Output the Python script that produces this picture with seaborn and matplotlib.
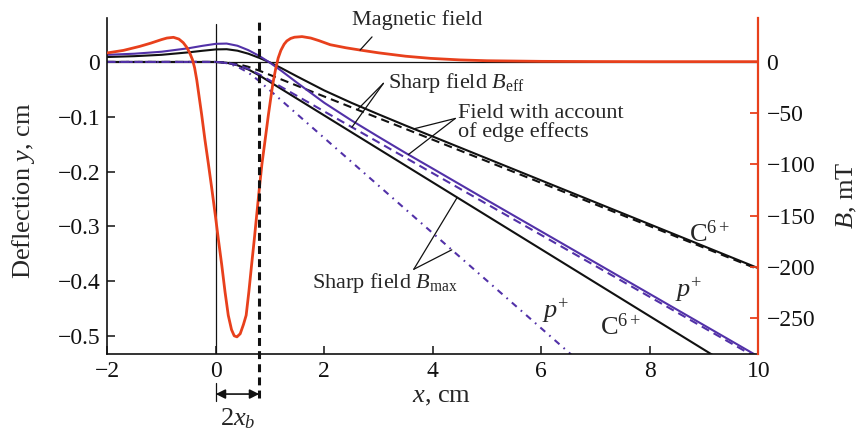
import numpy as np
import pandas as pd
import matplotlib
matplotlib.use("Agg")
import matplotlib.pyplot as plt
import matplotlib.transforms as mtransforms
import seaborn as sns

# ---------------- data ----------------
# magnetic field B (mT) along x (cm)
field_x = [-2.0, -1.7, -1.4, -1.2, -1.0, -0.9, -0.78, -0.68, -0.6, -0.535, -0.48, -0.43,
           -0.39, -0.35, -0.31, -0.26, -0.2, -0.135, -0.07, -0.01, 0.05, 0.11, 0.17, 0.23,
           0.29, 0.34, 0.39, 0.45, 0.51, 0.56, 0.61, 0.66, 0.71, 0.755, 0.80, 0.85, 0.91,
           0.97, 1.05, 1.10, 1.15, 1.2, 1.26, 1.31, 1.38, 1.45, 1.59, 1.75, 1.9, 2.11, 2.4,
           2.66, 3.0, 3.5, 3.96, 4.5, 5.0, 6.0, 7.0, 8.0, 10.0]
field_B = [8.5, 11.0, 14.9, 18.0, 21.5, 23.0, 23.7, 22.0, 18.5, 14.0, 8.5, 2.0,
           -6.0, -18.0, -33.0, -51.7, -76.0, -100.0, -125.0, -149.0, -174.0, -198.0, -224.0, -247.0,
           -261.0, -267.0, -268.0, -265.0, -256.0, -247.0, -224.0, -198.0, -173.0, -149.0, -125.0, -100.0, -76.0,
           -51.7, -22.0, -8.0, 3.5, 11.0, 17.0, 20.2, 22.6, 23.8, 24.4, 23.0, 20.5, 16.5, 13.5,
           11.3, 8.6, 5.3, 3.2, 1.7, 0.9, 0.3, 0.1, 0.0, 0.0]

# deflection y (cm): field with account of edge effects
edge_x = [-2, -1.5, -1, -0.5, -0.25, 0, 0.2, 0.4, 0.6, 0.8, 1.0, 1.2, 1.5, 2.0, 2.5,
          3.0, 3.5, 4, 5, 6, 8, 10]
c6_edge_y = [0.009, 0.0105, 0.013, 0.0175, 0.0203, 0.0228, 0.0232, 0.0205, 0.015, 0.0075,
             -0.001, -0.0108, -0.0265, -0.052, -0.0745, -0.0955, -0.116, -0.136, -0.176,
             -0.216, -0.296, -0.376]
p_edge_y = [0.013, 0.015, 0.0186, 0.025, 0.0293, 0.0330, 0.0335, 0.0295, 0.0215, 0.0110,
            -0.0015, -0.0155, -0.038, -0.0745, -0.1065, -0.1365, -0.166, -0.1945, -0.252,
            -0.309, -0.423, -0.537]

# sharp field B_eff
c6_eff_x = [-2, 0, 0.2, 0.4, 0.6, 0.8, 1.0, 10]
c6_eff_y = [0, 0, -0.0010, -0.0039, -0.0089, -0.0158, -0.0237, -0.378]
p_eff_x = [-2, 0, 0.2, 0.4, 0.6, 0.8, 1.0, 10]
p_eff_y = [0, 0, -0.0014, -0.0056, -0.0127, -0.0226, -0.0339, -0.541]

# sharp field B_max
c6_max_x = [-2, 0, 0.2, 0.4, 0.6, 0.8, 1.0, 9.4]
c6_max_y = [0, 0, -0.0015, -0.0061, -0.0137, -0.0244, -0.0366, -0.549]
p_max_x = [-2, 0, 0.2, 0.4, 0.6, 0.8, 1.0, 6.8]
p_max_y = [0, 0, -0.0022, -0.0087, -0.0195, -0.0347, -0.0520, -0.555]

# axes ticks / labels
x_ticks = [-2, 0, 2, 4, 6, 8, 10]
x_ticklabels = ["\u22122", "0", "2", "4", "6", "8", "10"]
y_ticks = [-0.5, -0.4, -0.3, -0.2, -0.1, 0]
y_ticklabels = ["\u22120.5", "\u22120.4", "\u22120.3", "\u22120.2", "\u22120.1", "0"]
b_ticks = [-250, -200, -150, -100, -50, 0]
b_ticklabels = ["\u2212250", "\u2212200", "\u2212150", "\u2212100", "\u221250", "0"]
two_xb = 0.8  # width of sharp-field region, 2x_b

# ---------------- style ----------------
sns.set_theme(style="ticks")
plt.rcParams["font.family"] = ["Liberation Serif", "DejaVu Serif"]
plt.rcParams["mathtext.fontset"] = "custom"
plt.rcParams["mathtext.rm"] = "Liberation Serif"
plt.rcParams["mathtext.it"] = "Liberation Serif:italic"
plt.rcParams["mathtext.bf"] = "Liberation Serif:bold"

RED = "#e8401c"
PURPLE = "#5231a8"
BLACK = "#111111"

fig = plt.figure(figsize=(8.61, 4.29), dpi=100)
ax = fig.add_axes([0.1246, 0.1741, 0.7561, 0.7851])
ax2 = ax.twinx()

lw = 1.5
dash = (0, (4, 2.5))
dashdot = (0, (3.1, 2.6, 0.8, 2.6))

def draw(axis, xs, ys, **kw):
    df = pd.DataFrame({"x": xs, "y": ys})
    sns.lineplot(data=df, x="x", y="y", ax=axis, estimator=None, sort=False, **kw)

# reference lines
ax.axhline(0, color=BLACK, lw=0.9, zorder=1)
ax.plot([0, 0], [0, 0.98], color=BLACK, lw=0.9,
        transform=mtransforms.blended_transform_factory(ax.transData, ax.transAxes), zorder=1)

# deflection curves
draw(ax, c6_max_x, c6_max_y, color=BLACK, lw=lw)
draw(ax, p_max_x, p_max_y, color=PURPLE, lw=lw, linestyle=dashdot)
draw(ax, c6_eff_x, c6_eff_y, color=BLACK, lw=lw, linestyle=dash)
draw(ax, p_eff_x, p_eff_y, color=PURPLE, lw=lw, linestyle=dash)
draw(ax, edge_x, c6_edge_y, color=BLACK, lw=lw)
draw(ax, edge_x, p_edge_y, color=PURPLE, lw=lw)

# magnetic field on right axis
draw(ax2, field_x, field_B, color=RED, lw=2.0)

# limits
ax.set_xlim(-2, 10)
ax.set_ylim(-0.533, 0.081)
ax2.set_ylim(-285, 43)

# ticks
ax.set_xticks(x_ticks)
ax.set_xticklabels(x_ticklabels)
ax.set_yticks(y_ticks)
ax.set_yticklabels(y_ticklabels)
ax2.set_yticks(b_ticks)
ax2.set_yticklabels(b_ticklabels)
ax.tick_params(axis="both", direction="in", length=6, width=1.1, labelsize=17, colors=BLACK)
ax.tick_params(axis="y", pad=5)
ax.tick_params(axis="x", pad=5)
ax2.tick_params(axis="y", direction="in", length=6, width=1.3, labelsize=17, pad=6,
                color=RED, labelcolor=BLACK)

# spines
for s in ["left", "bottom"]:
    ax.spines[s].set_color(BLACK)
    ax.spines[s].set_linewidth(1.2)
ax.spines["top"].set_visible(False)
ax.spines["right"].set_visible(False)
ax2.spines["top"].set_visible(False)
ax2.spines["left"].set_visible(False)
ax2.spines["bottom"].set_visible(False)
ax2.spines["right"].set_color(RED)
ax2.spines["right"].set_linewidth(1.6)

# axis labels
ax.set_xlabel("$x$, cm", fontsize=19)
ax.xaxis.set_label_coords(0.514, -0.095)
ax.set_ylabel("Deflection $y$, cm", fontsize=19)
ax.yaxis.set_label_coords(-0.108, 0.485)
ax2.set_ylabel("$B$, mT", fontsize=19)
ax2.yaxis.set_label_coords(1.118, 0.473)

# 2x_b marker (drawn on the top axes so it lies over the field curve)
bt = mtransforms.blended_transform_factory(ax2.transData, ax2.transAxes)
ax2.plot([two_xb, two_xb], [-0.13, 0.99], color=BLACK, lw=2.2, linestyle=(0, (2.6, 1.7)),
         transform=bt, clip_on=False, zorder=5)
ax2.plot([0, 0], [-0.14, -0.085], color=BLACK, lw=0.9, transform=bt, clip_on=False)
ax2.annotate("", xy=(0, -0.118), xytext=(two_xb, -0.118), xycoords=bt, textcoords=bt,
             arrowprops=dict(arrowstyle="<|-|>", color=BLACK, lw=1.2, mutation_scale=14,
                             shrinkA=0, shrinkB=0), annotation_clip=False)
ax2.text(two_xb / 2, -0.21, "2$x_b$", transform=bt, fontsize=19, ha="center",
         va="baseline", clip_on=False)

# annotations
fs = 16
def yat(xs, ys, x):
    return float(np.interp(x, xs, ys))

ax2.text(2.51, 40.5, "Magnetic field", fontsize=fs, ha="left", va="center")
ax2.annotate("", xy=(2.66, yat(field_x, field_B, 2.66)), xytext=(2.88, 24.1),
             arrowprops=dict(arrowstyle="-", color=BLACK, lw=0.9, shrinkA=0, shrinkB=0))

ax.text(3.18, -0.038, "Sharp field $B_{\\rm eff}$", fontsize=fs, ha="left", va="center")
for xe, xs_, ys_ in [(2.61, c6_eff_x, c6_eff_y), (2.51, p_eff_x, p_eff_y)]:
    ax.annotate("", xy=(xe, yat(xs_, ys_, xe)), xytext=(3.09, -0.039),
                arrowprops=dict(arrowstyle="-", color=BLACK, lw=0.9, shrinkA=0, shrinkB=0))

ax.text(4.47, -0.111, "Field with account\nof edge effects", fontsize=fs, ha="left",
        va="center", linespacing=0.95)
for xe, ys_ in [(3.65, c6_edge_y), (3.55, p_edge_y)]:
    ax.annotate("", xy=(xe, yat(edge_x, ys_, xe)), xytext=(4.415, -0.103),
                arrowprops=dict(arrowstyle="-", color=BLACK, lw=0.9, shrinkA=0, shrinkB=0))

ax.text(1.78, -0.403, "Sharp field $B_{\\rm max}$", fontsize=fs, ha="left", va="center")
for xe, xs_, ys_ in [(4.45, c6_max_x, c6_max_y), (4.35, p_max_x, p_max_y)]:
    ax.annotate("", xy=(xe, yat(xs_, ys_, xe)), xytext=(3.65, -0.378),
                arrowprops=dict(arrowstyle="-", color=BLACK, lw=0.9, shrinkA=0, shrinkB=0))

ax.text(8.72, -0.328, "C$^{6+}$", fontsize=19, ha="left", va="baseline")
ax.text(8.47, -0.429, "$p^{+}$", fontsize=19, ha="left", va="baseline")
ax.text(7.09, -0.498, "C$^{6+}$", fontsize=19, ha="left", va="baseline")
ax.text(6.02, -0.467, "$p^{+}$", fontsize=19, ha="left", va="baseline")

fig.savefig("out.png", dpi=100)
